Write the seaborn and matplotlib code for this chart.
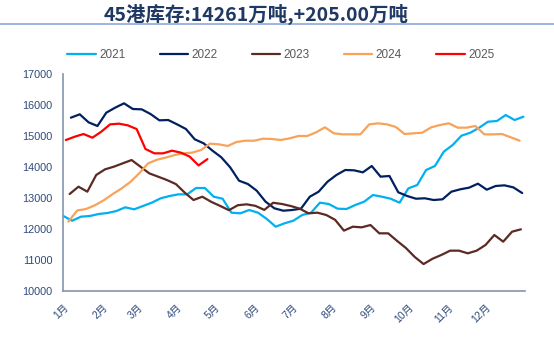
import numpy as np
import pandas as pd
import matplotlib
matplotlib.use("Agg")
import matplotlib.pyplot as plt
import seaborn as sns

# Weekly port inventory (10k tonnes), sampled every Friday
first_friday = {"2021": "2021-01-01", "2022": "2022-01-07", "2023": "2023-01-06",
                "2024": "2024-01-05", "2025": "2025-01-03"}

stock_2021 = [12423, 12271, 12401, 12423, 12487, 12520, 12584, 12703, 12638, 12746,
              12853, 12994, 13068, 13122, 13122, 13327, 13327, 13046, 12981, 12530,
              12509, 12616, 12530, 12326, 12077, 12186, 12271, 12455, 12530, 12853,
              12810, 12659, 12649, 12778, 12885, 13101, 13046, 12981, 12853, 13316,
              13424, 13908, 14038, 14500, 14716, 15017, 15113, 15275, 15469, 15491,
              15685, 15523, 15630]
stock_2022 = [15599, 15707, 15448, 15330, 15760, 15922, 16062, 15879, 15868, 15717,
              15513, 15523, 15383, 15233, 14899, 14770, 14533, 14318, 13995, 13563,
              13456, 13240, 12885, 12671, 12594, 12616, 12659, 13046, 13208, 13530,
              13746, 13908, 13898, 13833, 14038, 13693, 13715, 13188, 13069, 12981,
              12995, 12939, 12962, 13208, 13285, 13338, 13467, 13273, 13392, 13413,
              13348, 13165]
stock_2023 = [13133, 13370, 13208, 13747, 13930, 14016, 14124, 14230, 14016, 13800,
              13693, 13584, 13455, 13180, 12939, 13046, 12880, 12750, 12610, 12770,
              12800, 12750, 12620, 12850, 12810, 12745, 12660, 12509, 12530, 12455,
              12300, 11950, 12077, 12056, 12131, 11863, 11863, 11620, 11390, 11100,
              10870, 11040, 11163, 11303, 11303, 11217, 11303, 11486, 11809, 11593,
              11916, 11992]
stock_2024 = [12240, 12600, 12649, 12770, 12930, 13130, 13310, 13520, 13800, 14120,
              14240, 14310, 14390, 14447, 14469, 14555, 14760, 14738, 14684, 14813,
              14855, 14855, 14920, 14910, 14877, 14931, 15007, 15007, 15126, 15288,
              15093, 15060, 15060, 15060, 15383, 15416, 15383, 15300, 15071, 15093,
              15114, 15287, 15362, 15416, 15276, 15276, 15330, 15060, 15060, 15071,
              14964, 14856]
stock_2025 = [14877, 14984, 15071, 14952, 15145, 15383, 15405, 15351, 15232, 14587,
              14447, 14447, 14533, 14469, 14340, 14056, 14261]

years = ["2021", "2022", "2023", "2024", "2025"]
series = dict(zip(years, [stock_2021, stock_2022, stock_2023, stock_2024, stock_2025]))
colors = {"2021": "#00B0F0", "2022": "#002060", "2023": "#5C2A24",
          "2024": "#F8A25A", "2025": "#FF0000"}
month_labels = [f"{m}月" for m in range(1, 13)]

frames = []
for y in years:
    dates = pd.date_range(first_friday[y], periods=len(series[y]), freq="7D")
    frames.append(pd.DataFrame({"day": dates.dayofyear - 1,
                                "stock": series[y], "year": y}))
df = pd.concat(frames, ignore_index=True)

sns.set_style("white")
plt.rcParams["font.family"] = ["Noto Sans CJK SC", "DejaVu Sans"]

fig = plt.figure(figsize=(5.54, 3.48), dpi=100)
ax = fig.add_axes([0.1143, 0.1638, 0.9471 - 0.1143, 0.7865 - 0.1638])

sns.lineplot(data=df, x="day", y="stock", hue="year", palette=colors,
             linewidth=1.6, ax=ax, legend=False, sort=True)

axis_color = "#8594AE"
label_color = "#2E4A7A"
month_starts = [0, 31, 59, 90, 120, 151, 181, 212, 243, 273, 304, 334, 365]
ax.set_xlim(0, 365)
ax.set_ylim(10000, 17000)
ax.set_xticks(month_starts)
ax.set_xticklabels(month_labels + [""], rotation=45, ha="right", va="top",
                   rotation_mode="anchor", fontsize=7.5, color=label_color,
                   family=["Liberation Sans", "Noto Sans CJK SC"])
ax.set_yticks(range(10000, 17001, 1000))
ax.set_yticklabels([str(v) for v in range(10000, 17001, 1000)], fontsize=7.8,
                   color=label_color, family="Liberation Sans")
ax.tick_params(axis="x", direction="out", length=4, width=1, color=axis_color, pad=4)
ax.tick_params(axis="y", direction="out", length=4, width=1, color=axis_color, pad=4)
ax.set_xlabel("")
ax.set_ylabel("")
for side in ["top", "right"]:
    ax.spines[side].set_visible(False)
for side in ["left", "bottom"]:
    ax.spines[side].set_color(axis_color)
    ax.spines[side].set_linewidth(1.2)

# Legend across the top
handles = [plt.Line2D([], [], color=colors[y], linewidth=1.6) for y in years]
fig.legend(handles, years, loc="center", bbox_to_anchor=(0.507, 0.842), ncol=5,
           frameon=False, handlelength=2.4, handletextpad=0.3,
           columnspacing=2.9, labelcolor="#595959",
           prop={"family": "Liberation Sans", "size": 8.5})

# Title with a rule underneath
fig.text(0.462, 0.958, "45港库存:14261万吨,+205.00万吨", ha="center", va="center",
         fontsize=14, fontweight="bold", color="#1F3864")
fig.add_artist(plt.Line2D([0, 1], [1 - 24 / 348, 1 - 24 / 348],
                          transform=fig.transFigure, color="#8EAADB", linewidth=1.2))

fig.savefig("out.png", dpi=100)
